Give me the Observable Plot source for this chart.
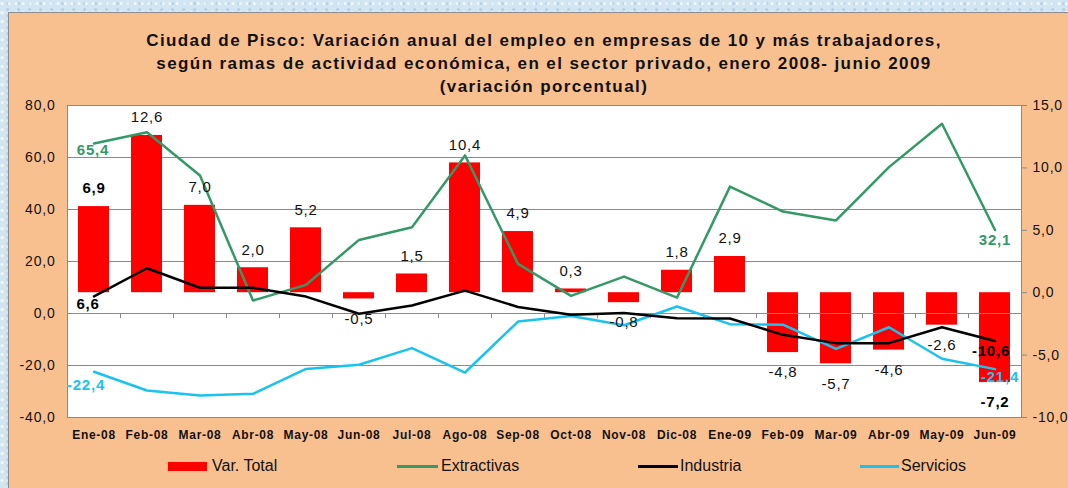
<!DOCTYPE html>
<html>
<head>
<meta charset="utf-8">
<script src="https://cdn.jsdelivr.net/npm/d3@7"></script>
<script src="https://cdn.jsdelivr.net/npm/@observablehq/plot@0.6"></script>
<style>
html, body { margin: 0; padding: 0; }
body {
  width: 1068px; height: 488px; overflow: hidden; position: relative;
  background-color: #d2e5f2;
  background-image:
    radial-gradient(circle at 30% 40%, rgba(255,255,255,0.7) 1px, transparent 2px),
    radial-gradient(circle at 70% 60%, rgba(160,195,220,0.6) 1px, transparent 2px);
  background-size: 7px 9px, 11px 6px;
  font-family: "Liberation Sans", Arial, sans-serif;
}
#box { position: absolute; left: 8px; top: 12px; width: 1060px; height: 476px; background: #F9C08F;
  border-top: 1px solid #8c8c8c; border-left: 1px solid #8c8c8c; box-sizing: border-box; }
#title { position: absolute; left: 0; width: 1088px; top: 29px; text-align: center;
  font-weight: bold; font-size: 17px; line-height: 23px; color: #111; letter-spacing: 1.4px; }
#chart { position: absolute; left: 0; top: 0; }
.lg { position: absolute; font-size: 16px; color: #111; line-height: 16px; top: 458px; }
.sw { position: absolute; }
g[aria-label="y-axis tick label"] text, g[aria-label="text"] text { letter-spacing: 0.8px; }
g[aria-label="x-axis tick label"] text { letter-spacing: 0.7px; }
</style>
</head>
<body>
<div id="box"></div>
<div id="title">Ciudad de Pisco: Variación anual del empleo en empresas de 10 y más trabajadores,<br>según ramas de actividad económica, en el sector privado, enero 2008- junio 2009<br>(variación porcentual)</div>
<div id="chart"></div>
<div class="sw" style="left:168px;top:462px;width:39px;height:9px;background:#ff0000"></div>
<div class="lg" style="left:212px">Var. Total</div>
<div class="sw" style="left:397px;top:465px;width:41px;height:2.5px;background:#339966"></div>
<div class="lg" style="left:441px">Extractivas</div>
<div class="sw" style="left:638px;top:465px;width:40px;height:2.5px;background:#000"></div>
<div class="lg" style="left:680px">Industria</div>
<div class="sw" style="left:860px;top:465px;width:39px;height:2.5px;background:#19c3f0"></div>
<div class="lg" style="left:901px">Servicios</div>
<script>
const months = ["Ene-08","Feb-08","Mar-08","Abr-08","May-08","Jun-08","Jul-08","Ago-08","Sep-08","Oct-08","Nov-08","Dic-08","Ene-09","Feb-09","Mar-09","Abr-09","May-09","Jun-09"];
const varTotal    = [6.9, 12.6, 7.0, 2.0, 5.2, -0.5, 1.5, 10.4, 4.9, 0.3, -0.8, 1.8, 2.9, -4.8, -5.7, -4.6, -2.6, -7.2];
const extractivas = [65.4, 69.7, 53.1, 5.0, 11.0, 28.3, 33.2, 60.8, 19.1, 6.8, 14.2, 6.1, 48.8, 39.2, 35.8, 56.3, 73.0, 32.1];
const industria   = [6.6, 17.4, 9.9, 9.9, 6.5, -0.1, 3.1, 8.8, 2.5, -0.5, 0.2, -1.8, -1.9, -8.2, -11.4, -11.4, -5.3, -10.6];
const servicios   = [-22.4, -29.6, -31.5, -30.9, -21.3, -19.7, -13.3, -22.7, -3.1, -1.0, -4.5, 2.7, -4.1, -4.3, -13.6, -5.3, -17.4, -21.4];
const leftTicks  = [-40, -20, 0, 20, 40, 60, 80];
const rightTicks = [-10, -5, 0, 5, 10, 15];

// right axis [-10,15] maps onto left axis [-40,80]
const toLeft = v => -40 + (v + 10) * 120 / 25;
const fromLeft = v => (v + 40) * 25 / 120 - 10;
const fmt = v => { let s = (Math.round(v * 10) / 10).toFixed(1).replace(".", ","); return s === "-0,0" ? "0,0" : s; };

const W = 1068, H = 488, mL = 67, mR = 47, mT = 105, mB = 71;
const step = (W - mL - mR) / months.length;
const data = months.map((m, i) => ({i, month: m, total: varTotal[i], ext: extractivas[i], ind: industria[i], ser: servicios[i]}));
const last = months.length - 1;
const GRAY = "#8a8a8a", GREEN = "#339966", CYAN = "#19c3f0";
const FONT = "'Liberation Sans', Arial, sans-serif";

const chart = Plot.plot({
  width: W, height: H, marginLeft: mL, marginRight: mR, marginTop: mT, marginBottom: mB,
  style: {background: "transparent", fontFamily: FONT, overflow: "visible", color: "#111"},
  x: {type: "band", domain: months, paddingInner: 0.41, paddingOuter: 0.205, axis: null},
  y: {domain: [-40, 80], axis: null},
  marks: [
    Plot.frame({fill: "white"}),
    Plot.gridY(leftTicks.filter(t => t > -40 && t < 80 && t !== 0), {stroke: GRAY, strokeOpacity: 1}),
    Plot.barY(data, {x: "month", y1: d => toLeft(0), y2: d => toLeft(d.total), fill: "#ff0000"}),
    Plot.ruleY([0], {stroke: GRAY}),
    Plot.ruleX(months, {x: d => d, y1: 0, y2: -2, dx: -step / 2, stroke: GRAY}),
    Plot.ruleX([months[last]], {x: d => d, y1: 0, y2: -2, dx: step / 2, stroke: GRAY}),
    Plot.line(data, {x: "month", y: "ser", stroke: CYAN, strokeWidth: 2.5}),
    Plot.line(data, {x: "month", y: "ext", stroke: GREEN, strokeWidth: 2.5}),
    Plot.line(data, {x: "month", y: "ind", stroke: "#000", strokeWidth: 2.5}),
    Plot.frame({stroke: GRAY}),
    // bar labels
    Plot.text(data, {filter: d => d.i > 0 && d.i < last && d.total >= 0, x: "month", y: d => toLeft(d.total), text: d => fmt(d.total), dy: -18, fontSize: 15, fill: "#111"}),
    Plot.text(data, {filter: d => d.i > 0 && d.i < last && d.total < 0, x: "month", y: d => toLeft(d.total), text: d => fmt(d.total), dy: 20, fontSize: 15, fill: "#111"}),
    Plot.text(data, {filter: d => d.i === 0, x: "month", y: d => toLeft(d.total), text: d => fmt(d.total), dy: -18, fontSize: 15, fontWeight: "bold", fill: "#000"}),
    Plot.text(data, {filter: d => d.i === last, x: "month", y: d => toLeft(d.total), text: d => fmt(d.total), dy: 20, fontSize: 15, fontWeight: "bold", fill: "#000"}),
    // line end labels
    Plot.text(data, {filter: d => d.i === 0, x: "month", y: "ext", text: d => fmt(d.ext), dx: -1, dy: 7, fontSize: 15, fontWeight: "bold", fill: GREEN}),
    Plot.text(data, {filter: d => d.i === last, x: "month", y: "ext", text: d => fmt(d.ext), dx: 0, dy: 10, fontSize: 15, fontWeight: "bold", fill: GREEN}),
    Plot.text(data, {filter: d => d.i === 0, x: "month", y: "ind", text: d => fmt(d.ind), dx: -6, dy: 8, fontSize: 15, fontWeight: "bold", fill: "#000"}),
    Plot.text(data, {filter: d => d.i === last, x: "month", y: "ind", text: d => fmt(d.ind), dx: -4, dy: 10, fontSize: 15, fontWeight: "bold", fill: "#000"}),
    Plot.text(data, {filter: d => d.i === 0, x: "month", y: "ser", text: d => fmt(d.ser), dx: -8, dy: 13, fontSize: 15, fontWeight: "bold", fill: CYAN}),
    Plot.text(data, {filter: d => d.i === last, x: "month", y: "ser", text: d => fmt(d.ser), dx: 5, dy: 8, fontSize: 15, fontWeight: "bold", fill: CYAN}),
    // axes
    Plot.axisY(leftTicks, {anchor: "left", tickSize: 0, tickPadding: 12, tickFormat: fmt, fontSize: 14, label: null}),
    Plot.axisY(rightTicks.map(toLeft), {anchor: "right", tickSize: 5, tickPadding: 6, stroke: GRAY, tickFormat: d => fmt(fromLeft(d)), fontSize: 14, label: null}),
    Plot.axisX({anchor: "bottom", tickSize: 0, tickPadding: 13, fontSize: 12, fontWeight: "bold", label: null})
  ]
});
document.getElementById("chart").appendChild(chart);
</script>
</body>
</html>
